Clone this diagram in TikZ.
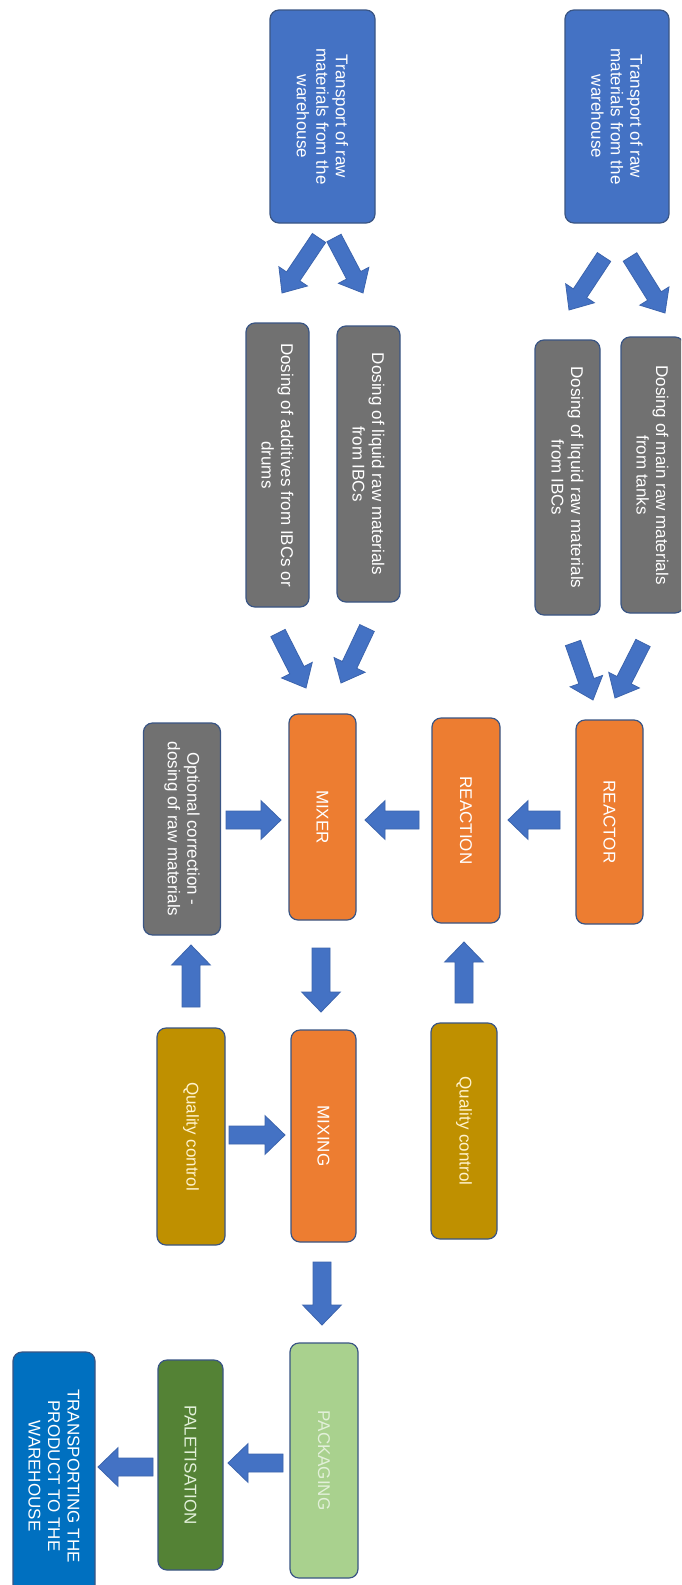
\documentclass[tikz,border=0pt]{standalone}
\usepackage{fontspec}
\setmainfont{Liberation Sans}
\usetikzlibrary{calc}
\definecolor{tblue}{HTML}{4472C4}
\definecolor{pblue}{HTML}{0070C0}
\definecolor{dgray}{HTML}{717171}
\definecolor{orng}{HTML}{ED7D31}
\definecolor{gold}{HTML}{BF9000}
\definecolor{lgreen}{HTML}{A9D18E}
\definecolor{dgreen}{HTML}{548235}
\definecolor{bordc}{HTML}{3A5584}
\definecolor{arrfill}{HTML}{4472C4}
\definecolor{arrbord}{HTML}{3C64AD}
\definecolor{qctext}{HTML}{FFF2CC}
\definecolor{gtext}{HTML}{E2F0D9}
\tikzset{
  box/.style={draw=bordc, line width=1.2pt, rounded corners=9pt, rotate=-90,
    text=white, align=center, inner sep=2pt,
    font=\fontsize{17}{19.5}\selectfont},
  arrowstyle/.style={fill=arrfill, draw=arrbord, line width=0.8pt, line join=miter}
}
\newcommand\barrow[3][9]{%
  \path (#2); \pgfgetlastxy{\ax}{\ay}%
  \path (#3); \pgfgetlastxy{\bx}{\by}%
  \pgfmathsetmacro\bang{atan2(\by-\ay,\bx-\ax)}%
  \pgfmathsetmacro\blen{veclen(\bx-\ax,\by-\ay)}%
  \pgfmathsetmacro\bl{\blen-20}%
  \pgfmathsetmacro\bhw{#1}%
  \pgfmathsetmacro\bhh{2.15*#1}%
  \draw[arrowstyle, shift={(#2)}, rotate=\bang]
    (0pt,-\bhw pt) -- (\bl pt,-\bhw pt) -- (\bl pt,-\bhh pt) -- (\blen pt,0pt)
    -- (\bl pt,\bhh pt) -- (\bl pt,\bhw pt) -- (0pt,\bhw pt) -- cycle;%
}
\begin{document}
\begin{tikzpicture}[x=1pt,y=-1pt]
\useasboundingbox (0,0) rectangle (681,1585);
\clip (0,0) rectangle (681,1585);
\fill[white] (0,0) rectangle (681,1585);

% top row
\node[box, fill=tblue, minimum width=213pt, minimum height=105pt] (t1) at (322.5,116.5) {Transport of raw\\materials from the\\warehouse};
\node[box, fill=tblue, minimum width=213pt, minimum height=104pt] (t2) at (617,116.5) {Transport of raw\\materials from the\\warehouse};

% dosing boxes
\node[box, fill=dgray, minimum width=284pt, minimum height=63pt] (d1) at (277.5,465) {Dosing of additives from IBCs or\\drums};
\node[box, fill=dgray, minimum width=276pt, minimum height=63pt] (d2) at (368.5,464) {Dosing of liquid raw materials\\from IBCs};
\node[box, fill=dgray, minimum width=275pt, minimum height=65pt] (d3) at (567.5,477.5) {Dosing of liquid raw materials\\from IBCs};
\node[box, fill=dgray, minimum width=276pt, minimum height=63pt] (d4) at (652.5,475) {Dosing of main raw materials\\from tanks};

% orange row
\node[box, fill=orng, minimum width=206pt, minimum height=67pt] (mixer) at (322.5,817) {MIXER};
\node[box, fill=orng, minimum width=205pt, minimum height=68pt] (reaction) at (466,820.5) {REACTION};
\node[box, fill=orng, minimum width=204pt, minimum height=67pt] (reactor) at (609.5,822) {REACTOR};
\node[box, fill=dgray, minimum width=212pt, minimum height=77pt] (opt) at (182,829) {Optional correction -\\dosing of raw materials};

% quality row
\node[box, fill=gold, text=qctext, minimum width=217pt, minimum height=68pt] (qc1) at (191,1136.5) {Quality control};
\node[box, fill=orng, minimum width=212pt, minimum height=65pt] (mixing) at (323.5,1136) {MIXING};
\node[box, fill=gold, text=qctext, minimum width=216pt, minimum height=66pt] (qc2) at (464,1131) {Quality control};

% bottom row
\node[box, fill=lgreen, text=gtext, minimum width=235pt, minimum height=68pt] (pack) at (324,1460.5) {PACKAGING};
\node[box, fill=dgreen, text=gtext, minimum width=210pt, minimum height=65pt] (pal) at (190.5,1465) {PALETISATION};
\node[box, fill=pblue, minimum width=248pt, minimum height=82pt] (trans) at (54,1476) {TRANSPORTING THE\\PRODUCT TO THE\\WAREHOUSE};

% arrow end coordinates
\coordinate (a1s) at (319,238);  \coordinate (a1e) at (282,293);
\coordinate (a2s) at (334,238);  \coordinate (a2e) at (363,293);
\coordinate (a3s) at (604,257);  \coordinate (a3e) at (569,310);
\coordinate (a4s) at (630,257);  \coordinate (a4e) at (665,313);
\coordinate (a5s) at (278,633);  \coordinate (a5e) at (306,688);
\coordinate (a6s) at (367,628);  \coordinate (a6e) at (341,683);
\coordinate (a7s) at (573,643);  \coordinate (a7e) at (593,700);
\coordinate (a8s) at (643,643);  \coordinate (a8e) at (615,698);
\coordinate (a9s) at (560,820);  \coordinate (a9e) at (508,820);
\coordinate (a10s) at (419,820); \coordinate (a10e) at (365,820);
\coordinate (a11s) at (226,820); \coordinate (a11e) at (281,820);
\coordinate (a12s) at (464,1003); \coordinate (a12e) at (464,942);
\coordinate (a13s) at (321,948); \coordinate (a13e) at (321,1012);
\coordinate (a14s) at (191,1007); \coordinate (a14e) at (191,945);
\coordinate (a15s) at (229,1135); \coordinate (a15e) at (285,1135);
\coordinate (a16s) at (322,1262); \coordinate (a16e) at (322,1325);
\coordinate (a17s) at (283,1463); \coordinate (a17e) at (228,1463);
\coordinate (a18s) at (153,1467); \coordinate (a18e) at (98,1467);

\barrow[8]{a1s}{a1e}
\barrow[8]{a2s}{a2e}
\barrow[8]{a3s}{a3e}
\barrow[8]{a4s}{a4e}
\barrow[8]{a5s}{a5e}
\barrow[8]{a6s}{a6e}
\barrow[8]{a7s}{a7e}
\barrow[8]{a8s}{a8e}
\barrow{a9s}{a9e}
\barrow{a10s}{a10e}
\barrow{a11s}{a11e}
\barrow{a12s}{a12e}
\barrow{a13s}{a13e}
\barrow{a14s}{a14e}
\barrow{a15s}{a15e}
\barrow{a16s}{a16e}
\barrow{a17s}{a17e}
\barrow{a18s}{a18e}
\end{tikzpicture}
\end{document}
